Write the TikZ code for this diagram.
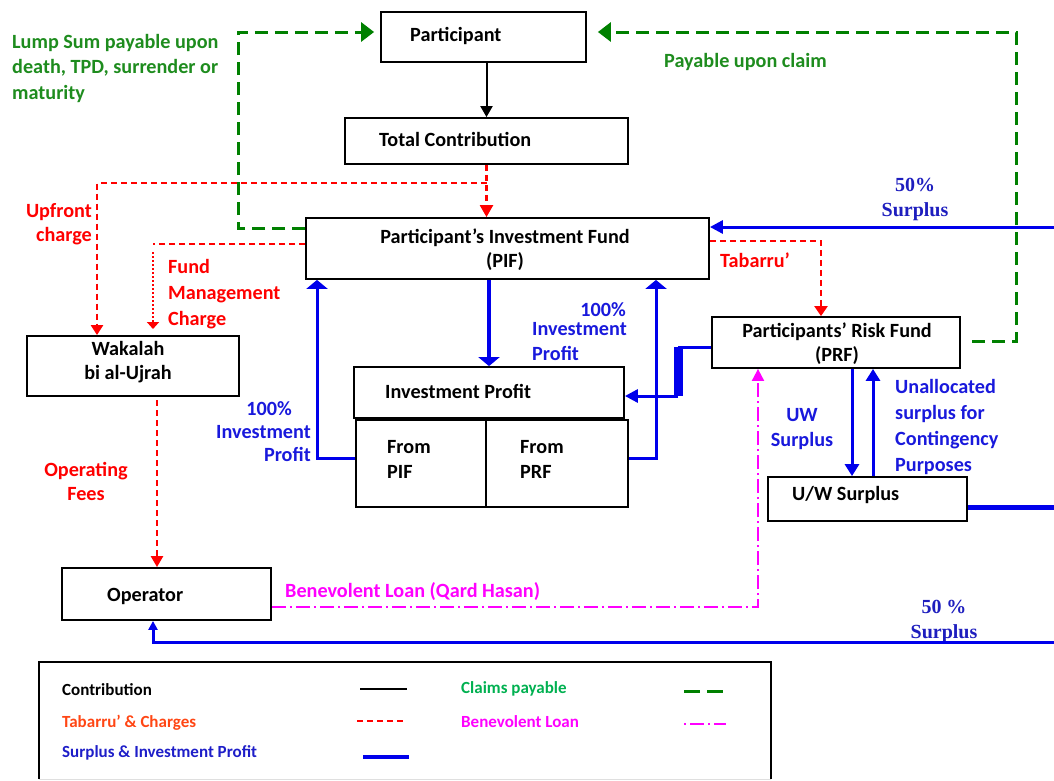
\documentclass[tikz,border=0pt]{standalone}
\usepackage{fontspec}
\setmainfont{Carlito}
\newfontfamily\serifb{Liberation Serif}
\usetikzlibrary{arrows.meta}
\definecolor{cgreen}{RGB}{0,128,0}
\definecolor{tgreen}{RGB}{30,140,30}
\definecolor{cblue}{RGB}{0,0,235}
\definecolor{tblue}{RGB}{25,25,220}
\definecolor{sblue}{RGB}{30,30,190}
\definecolor{cred}{RGB}{255,0,0}
\definecolor{cmag}{RGB}{255,0,255}
\definecolor{lorange}{RGB}{255,70,20}
\definecolor{lgreen}{RGB}{0,176,80}
\definecolor{lblue}{RGB}{30,30,200}
\begin{document}
\begin{tikzpicture}[x={(1pt,0pt)}, y={(0pt,-1pt)},
  box/.style={draw=black, line width=1.8pt, inner sep=0pt},
  lab/.style={inner sep=0pt, font=\fontsize{20.2}{25}\selectfont\bfseries},
  leglab/.style={inner sep=0pt, font=\fontsize{17}{20}\selectfont\bfseries},
  sfl/.style={inner sep=0pt, text=sblue, font=\fontsize{20}{25}\selectfont\serifb\bfseries},
  blk/.style={line width=2pt, draw=black},
  rd/.style={line width=2.3pt, draw=cred, dash pattern=on 6pt off 4pt},
  rdot/.style={line width=2.3pt, draw=cred, dash pattern=on 2pt off 2pt},
  grn/.style={line width=3pt, draw=cgreen, dash pattern=on 13pt off 7pt},
  bl/.style={line width=3pt, draw=cblue},
  mgl/.style={line width=2pt, draw=cmag, dash pattern=on 14pt off 4pt on 2pt off 4pt},
  tipS/.style={-{Triangle[length=11pt,width=12pt]}},
  tipG/.style={-{Triangle[length=13pt,width=19pt]}},
  tipW/.style={-{Triangle[length=9pt,width=21pt]}},
]
\useasboundingbox (0,0) rectangle (1054,780);

% ---------- boxes ----------
\node[box, minimum width=205pt, minimum height=50pt] (part) at (483.5,37) {};
\node[box, minimum width=283pt, minimum height=46pt] (tot) at (486.5,141) {};
\node[box, minimum width=403pt, minimum height=61pt] (pif) at (507.5,248.5) {};
\node[box, minimum width=212pt, minimum height=60pt] (wak) at (133,366) {};
\node[box, minimum width=209pt, minimum height=52pt] (op) at (166.5,594) {};
\node[box, minimum width=248pt, minimum height=51pt] (prf) at (836,342.5) {};
\node[box, minimum width=270pt, minimum height=51pt] (ip) at (489,392.5) {};
\node[box, minimum width=130pt, minimum height=87pt] (fpif) at (421,463.5) {};
\node[box, minimum width=142pt, minimum height=87pt] (fprf) at (557,463.5) {};
\node[box, minimum width=199pt, minimum height=44pt] (uw) at (867.5,499) {};

% ---------- box texts (multi-line nodes: base = last line) ----------
\node[lab, anchor=base west] (partT) at (410,41) {Participant};
\node[lab, anchor=base west] (totT) at (379,146) {Total Contribution};
\node[lab, anchor=base, align=center, font=\fontsize{20.2}{24}\selectfont\bfseries] (pifT) at (505,267) {Participant’s Investment Fund\\(PIF)};
\node[lab, anchor=base, align=center, font=\fontsize{20.2}{24}\selectfont\bfseries] (wakT) at (128,379) {Wakalah\\bi al-Ujrah};
\node[lab, anchor=base west] (opT) at (107,601) {Operator};
\node[lab, anchor=base, align=center, font=\fontsize{20.2}{24}\selectfont\bfseries] (prfT) at (837,361) {Participants’ Risk Fund\\(PRF)};
\node[lab, anchor=base west] (ipT) at (385,398) {Investment Profit};
\node[lab, anchor=base west, align=left] (fpifT) at (387,478) {From\\PIF};
\node[lab, anchor=base west, align=left] (fprfT) at (520,478) {From\\PRF};
\node[lab, anchor=base west] (uwT) at (792,500) {U/W Surplus};

% ---------- labels ----------
\node[lab, text=tgreen, anchor=base west, align=left, font=\fontsize{20.2}{25.5}\selectfont\bfseries] (lumpT) at (12,99) {Lump Sum payable upon\\death, TPD, surrender or\\maturity};
\node[lab, text=tgreen, anchor=base west] (payT) at (664,67) {Payable upon claim};
\node[lab, text=cred, anchor=base east, align=right, font=\fontsize{20.2}{24}\selectfont\bfseries] (upT) at (92,241) {Upfront\\charge};
\node[lab, text=cred, anchor=base west, align=left, font=\fontsize{20.2}{26}\selectfont\bfseries] (fmT) at (168,325) {Fund\\Management\\Charge};
\node[lab, text=cred, anchor=base west] (tabT) at (720,267) {Tabarru’};
\node[lab, text=cred, anchor=base, align=center, font=\fontsize{20.2}{24}\selectfont\bfseries] (ofT) at (86,500) {Operating\\Fees};
\node[lab, text=tblue, anchor=base east, align=right, font=\fontsize{20.2}{23}\selectfont\bfseries] (ipl) at (311,461) {100\%\hspace*{19pt}\\Investment\\Profit};
\node[lab, text=tblue, anchor=base east] (ipr1) at (626,316) {100\%};
\node[lab, text=tblue, anchor=base west, align=left] (ipr2) at (532,360) {Investment\\Profit};
\node[lab, text=tblue, anchor=base, align=center] (uwsT) at (802,446) {UW\\Surplus};
\node[lab, text=tblue, anchor=base west, align=left, font=\fontsize{20.2}{25.7}\selectfont\bfseries] (unT) at (895,471) {Unallocated\\surplus for\\Contingency\\Purposes};
\node[sfl, anchor=base, align=center] (s50a) at (915,216) {50\%\\Surplus};
\node[sfl, anchor=base, align=center] (s50b) at (944,638) {50 \%\\Surplus};
\node[lab, text=cmag, anchor=base west] (qhT) at (285,597) {Benevolent Loan (Qard Hasan)};

% ---------- connectors ----------
% contribution
\draw[blk, tipS] (tot.north |- part.south) -- (tot.north);
% red: tabarru' and charges
\draw[rd, -{Triangle[length=12pt,width=13pt]}] (tot.south) -- (tot.south |- pif.north);
\coordinate (uc) at (97,183);
\draw[rd, -{Triangle[length=10pt,width=12pt]}] (tot.south |- uc) -- (uc) -- (uc |- wak.north);
\coordinate (fm) at (153,244);
\coordinate (fm2) at (153,252);
\coordinate (fm3) at (153,329);
\draw[rd] (pif.west |- fm) -- (fm);
\draw[rdot, -{Triangle[length=7pt,width=12pt]}] (fm2) -- (fm3);
\coordinate (of) at (157,400);
\draw[rd, -{Triangle[length=11pt,width=12pt]}] (of) -- (of |- op.north);
\coordinate (tb) at (821,241);
\draw[rd, -{Triangle[length=10pt,width=13pt]}] (pif.east |- tb) -- (tb) -- (tb |- prf.north);
% green: claims
\coordinate (gly) at (238,228);
\coordinate (gl) at (238,32);
\draw[grn, tipG, shorten >=6pt] (pif.west |- gly) -- (gly) -- (gl) -- (part.west |- gl);
\coordinate (grs) at (972,341);
\coordinate (gr) at (1016,32);
\draw[grn, tipG, shorten >=11pt] (grs) -| (gr) -- (part.east |- gr);
% blue: surplus and investment profit
\coordinate (s1) at (1054,227);
\draw[bl, -{Triangle[length=13pt,width=13pt]}] (s1) -- (pif.east |- s1);
\draw[bl, line width=3.5pt, tipW] (ip.north |- pif.south) -- (ip.north);
\coordinate (lb) at (317,458);
\draw[bl, tipW] (fpif.west |- lb) -- (lb) -- (lb |- pif.south);
\coordinate (rb) at (656,458);
\draw[bl, tipW] (fprf.east |- rb) -- (rb) -- (rb |- pif.south);
\coordinate (tk) at (678,347);
\coordinate (tk2) at (678,396);
\draw[bl] (prf.west |- tk) -- (tk);
\draw[bl, line width=9pt] (tk) -- (tk2);
\draw[bl, -{Triangle[length=13pt,width=13pt]}] (tk2) -- (ip.east |- tk2);
\coordinate (ud) at (852,0);
\coordinate (uu) at (873,0);
\draw[bl, -{Triangle[length=12pt,width=14pt]}] (prf.south -| ud) -- (uw.north -| ud);
\draw[bl, -{Triangle[length=12pt,width=14pt]}] (uw.north -| uu) -- (prf.south -| uu);
\coordinate (re) at (1054,507);
\draw[bl, line width=5pt] (uw.east |- re) -- (re);
\coordinate (be) at (1054,642);
\coordinate (bo) at (153,642);
\draw[bl, -{Triangle[length=9pt,width=9pt]}] (be) -- (bo) -- (bo |- op.south);
% magenta: benevolent loan
\coordinate (mg) at (758,607);
\draw[mgl, -{Triangle[length=12pt,width=12pt]}] (op.east |- mg) -- (mg) -- (mg |- prf.south);

% ---------- legend ----------
\node[inner sep=0pt, minimum width=732pt, minimum height=117pt] (leg) at (405,720.5) {};
\draw[line width=2pt] (leg.south west) -- (leg.north west) -- (leg.north east) -- (leg.south east);
\draw[gray!25, line width=1pt] (leg.south west) -- (leg.south east);
\node[leglab, anchor=base west] (lg1) at (62,695) {Contribution};
\node[leglab, anchor=base west, text=lorange] (lg2) at (62,727) {Tabarru’ \& Charges};
\node[leglab, anchor=base west, text=lblue] (lg3) at (62,757) {Surplus \& Investment Profit};
\node[leglab, anchor=base west, text=lgreen] (lg4) at (461,693) {Claims payable};
\node[leglab, anchor=base west, text=cmag] (lg5) at (461,727) {Benevolent Loan};
\draw[blk] (360,689) -- (407,689);
\draw[rd] (357,721) -- (405,721);
\draw[bl, line width=4pt] (363,757) -- (409,757);
\draw[grn, dash pattern=on 16pt off 7pt] (684,691) -- (723,691);
\draw[mgl, dash pattern=on 2pt off 4pt on 14pt off 4pt] (684,724) -- (726,724);
\end{tikzpicture}
\end{document}
